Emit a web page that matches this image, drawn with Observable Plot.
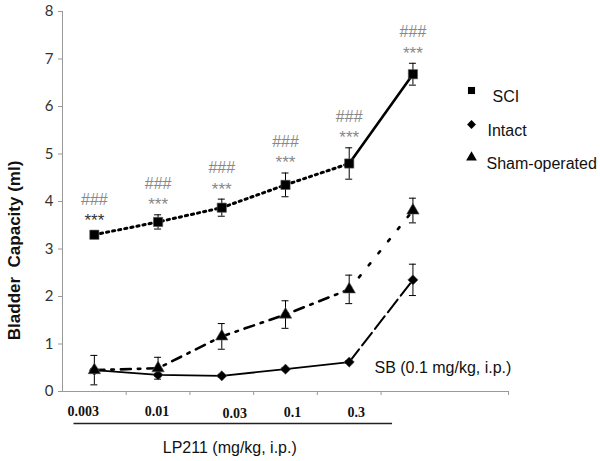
<!DOCTYPE html>
<html><head><meta charset="utf-8">
<script src="https://cdn.jsdelivr.net/npm/d3@7"></script>
<script src="https://cdn.jsdelivr.net/npm/@observablehq/plot@0.6"></script>
<style>body{margin:0;background:#fff}</style>
</head><body><div id="chart"></div>
<script>
// ---- data ----
const doseLabels = ["0.003", "0.01", "0.03", "0.1", "0.3"];
const groups = ["SCI", "Intact", "Sham-operated"];
const sciMean = [3.30, 3.57, 3.87, 4.35, 4.80, 6.68];
const sciErr = [0.08, 0.15, 0.18, 0.25, 0.33, 0.23];
const intactMean = [0.45, 0.35, 0.33, 0.47, 0.62, 2.35];
const intactErr = [0.03, 0.03, 0.03, 0.03, 0.03, 0.33];
const shamMean = [0.45, 0.49, 1.16, 1.62, 2.15, 3.81];
const shamErr = [0.31, 0.23, 0.27, 0.29, 0.30, 0.26];
const yTicks = [0, 1, 2, 3, 4, 5, 6, 7, 8];
const hashMark = "###";
const starMark = "***";
const sbLabel = "SB (0.1 mg/kg, i.p.)";
const lpLabel = "LP211 (mg/kg, i.p.)";
const yLabel = "Bladder  Capacity (ml)";

// ---- build table ----
const series = {SCI: [sciMean, sciErr], Intact: [intactMean, intactErr], "Sham-operated": [shamMean, shamErr]};
const rows = groups.flatMap(g => series[g][0].map((m, i) => ({group: g, i, mean: m, err: series[g][1][i]})));
const seg = (g, a, b) => rows.filter(r => r.group === g && r.i >= a && r.i <= b);
const sci = rows.filter(r => r.group === "SCI");
const symbolOf = {SCI: "square", Intact: "diamond2", "Sham-operated": "triangle"};
const rOf = {SCI: 5.2, Intact: 4.6, "Sham-operated": 4.6};
const labelNudge = [-11, -1, 13, 7, 7];
const labelDrop = [20, 20, 22, 21, 21];

const marks = [
  // axes
  Plot.ruleX([-0.5], {y1: 0, y2: 8, stroke: "#999", strokeWidth: 1}),
  Plot.ruleY([0], {x1: -0.5, x2: 6.5, stroke: "#999", strokeWidth: 1}),
  Plot.axisY({ticks: yTicks, tickSize: 4, tickPadding: 5, stroke: "#999", fill: "#333", fontSize: 15, fontFamily: "Lato", label: null}),
  Plot.axisX({ticks: [0.5, 1.5, 2.5, 3.5, 4.5, 6.5], tickSize: 4, tickFormat: () => "", stroke: "#999", label: null}),
  // dose labels
  ...doseLabels.map((t, i) => Plot.text([t], {x: i, y: 0, text: d => d, dx: labelNudge[i], dy: labelDrop[i], fontFamily: "Liberation Serif", fontWeight: "bold", fontSize: 14, fill: "#111"})),
  Plot.ruleY([0], {x1: -0.32, x2: 4.68, dy: 32, stroke: "#222", strokeWidth: 1.3}),
  Plot.text([lpLabel], {x: 2, y: 0, text: d => d, dx: 8, dy: 56, fontFamily: "Liberation Sans", fontSize: 16, fill: "#111"}),
  Plot.text([sbLabel], {x: 5, y: 0, text: d => d, dx: 30, dy: -24, fontFamily: "Liberation Sans", fontSize: 16, fill: "#111"}),
  Plot.text([yLabel], {x: -0.5, y: 2.97, text: d => d, rotate: -90, dx: -48, fontFamily: "Liberation Sans", fontWeight: "bold", fontSize: 17, fill: "#111"}),
  // lines
  Plot.line(seg("SCI", 0, 4), {x: "i", y: "mean", stroke: "#000", strokeWidth: 3, strokeDasharray: "2.2,4"}),
  Plot.line(seg("SCI", 4, 5), {x: "i", y: "mean", stroke: "#000", strokeWidth: 2.6}),
  Plot.line(seg("Intact", 0, 4), {x: "i", y: "mean", stroke: "#000", strokeWidth: 1.8}),
  Plot.line(seg("Intact", 4, 5), {x: "i", y: "mean", stroke: "#000", strokeWidth: 2, strokeDasharray: "16,5"}),
  Plot.line(seg("Sham-operated", 0, 4), {x: "i", y: "mean", stroke: "#000", strokeWidth: 2.6, strokeDasharray: "10,7,2.5,7"}),
  Plot.line(seg("Sham-operated", 4, 5), {x: "i", y: "mean", stroke: "#000", strokeWidth: 2.6, strokeDasharray: "2.5,13"}),
  // error bars
  Plot.ruleX(rows, {x: "i", y1: d => d.mean - d.err, y2: d => d.mean + d.err, stroke: "#000", strokeWidth: 1}),
  Plot.ruleY(rows, {y: d => d.mean + d.err, x1: d => d.i - 0.055, x2: d => d.i + 0.055, stroke: "#000", strokeWidth: 1}),
  Plot.ruleY(rows, {y: d => d.mean - d.err, x1: d => d.i - 0.055, x2: d => d.i + 0.055, stroke: "#000", strokeWidth: 1}),
  // markers
  ...groups.map(g => Plot.dot(rows.filter(r => r.group === g), {x: "i", y: "mean", symbol: symbolOf[g], r: rOf[g], fill: "#000", stroke: "#555", strokeWidth: 0.6})),
  // significance
  Plot.text(sci, {x: "i", y: d => d.mean + d.err, text: () => hashMark, dy: -31, fontFamily: "Liberation Sans", fontSize: 16, letterSpacing: 0.5, fill: "#888"}),
  Plot.text(sci, {x: "i", y: d => d.mean + d.err, text: () => starMark, dy: -10, fontFamily: "Liberation Sans", fontSize: 17, letterSpacing: 2, fill: (d) => d.i === 0 ? "#333" : "#888"}),
  // legend
  ...groups.map((g, k) => Plot.dot([g], {frameAnchor: "top-left", dx: 409, dy: [79, 113, 146][k], symbol: symbolOf[g], r: 4, fill: "#000"})),
  ...groups.map((g, k) => Plot.text([g], {frameAnchor: "top-left", text: d => d, textAnchor: "start", dx: [430, 425, 424][k], dy: [79, 113, 146][k], fontFamily: "Liberation Sans", fontSize: 16, fill: "#111"}))
];

const chart = Plot.plot({
  width: 600, height: 461,
  marginLeft: 62, marginRight: 92, marginTop: 11, marginBottom: 70,
  x: {type: "linear", domain: [-0.5, 6.5], axis: null},
  y: {domain: [0, 8], axis: null},
  style: {background: "#fff", overflow: "visible"},
  marks
});
document.getElementById("chart").appendChild(chart);
</script>
</body></html>
